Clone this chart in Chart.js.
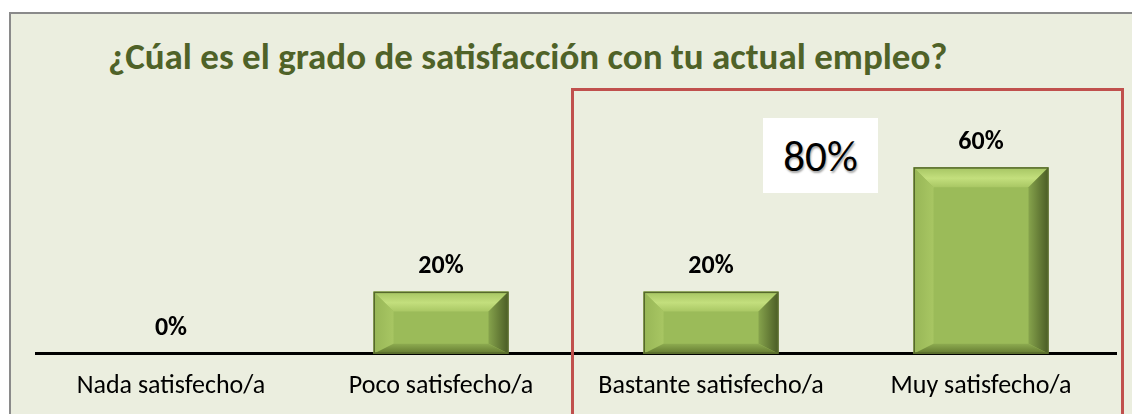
<!DOCTYPE html>
<html><head><meta charset="utf-8">
<script src="https://cdn.jsdelivr.net/npm/chart.js@4.4.1/dist/chart.umd.min.js"></script>
<style>
html,body{margin:0;padding:0;background:#fff;width:1132px;height:414px;overflow:hidden;}
#box{position:absolute;left:9px;top:12px;width:1140px;height:420px;border:2px solid #8a8a8a;background:#EBEEDF;box-sizing:border-box;}
#title{position:absolute;left:108px;top:35px;font-family:Carlito,Lato,sans-serif;font-weight:bold;font-size:37px;line-height:44px;color:#4F6228;white-space:nowrap;}
#wrap{position:absolute;left:0;top:0;width:1132px;height:424px;}
#red{position:absolute;left:571px;top:88px;width:553px;height:400px;border:3px solid #C0504D;box-sizing:border-box;}
#big{position:absolute;left:763px;top:118px;width:115px;height:75px;background:#fff;font-family:Carlito,Lato,sans-serif;font-size:43px;color:#000;text-align:center;line-height:78px;text-shadow:1px 2px 2px rgba(0,0,0,0.35);}
</style></head>
<body>
<div id="box"></div>
<div id="title">¿Cúal es el grado de satisfacción con tu actual empleo?</div>
<div id="wrap"><canvas id="c" width="1132" height="424"></canvas></div>
<div id="big">80%</div>
<div id="red"></div>
<script>
const categories = ["Nada satisfecho/a", "Poco satisfecho/a", "Bastante satisfecho/a", "Muy satisfecho/a"];
const values = [0, 20, 20, 60];
const valueLabels = ["0%", "20%", "20%", "60%"];

const bevelPlugin = {
  id: 'bevel',
  afterDatasetsDraw(chart) {
    const ctx = chart.ctx;
    const meta = chart.getDatasetMeta(0);
    meta.data.forEach((bar) => {
      const p = bar.getProps(['x','y','base','width'], true);
      const l = p.x - p.width/2, r = p.x + p.width/2, t = p.y, b = p.base;
      const h = b - t;
      if (h < 1) return;
      const s = Math.min(20, h/2.8), bs = Math.min(10, h/5);
      ctx.save();
      ctx.fillStyle = '#9BBB59';
      ctx.fillRect(l, t, r-l, h);
      let g = ctx.createLinearGradient(0, t, 0, t+s);
      g.addColorStop(0, '#A5C462'); g.addColorStop(0.55, '#C3DF7D'); g.addColorStop(1, '#A9C764');
      ctx.fillStyle = g;
      ctx.beginPath(); ctx.moveTo(l,t); ctx.lineTo(r,t); ctx.lineTo(r-s,t+s); ctx.lineTo(l+s,t+s); ctx.closePath(); ctx.fill();
      g = ctx.createLinearGradient(l, 0, l+s, 0);
      g.addColorStop(0, '#97B656'); g.addColorStop(1, '#A8C663');
      ctx.fillStyle = g;
      ctx.beginPath(); ctx.moveTo(l,t); ctx.lineTo(l+s,t+s); ctx.lineTo(l+s,b-bs); ctx.lineTo(l,b); ctx.closePath(); ctx.fill();
      g = ctx.createLinearGradient(r-s, 0, r, 0);
      g.addColorStop(0, '#86A34C'); g.addColorStop(1, '#4A5C25');
      ctx.fillStyle = g;
      ctx.beginPath(); ctx.moveTo(r,t); ctx.lineTo(r,b); ctx.lineTo(r-s,b-bs); ctx.lineTo(r-s,t+s); ctx.closePath(); ctx.fill();
      g = ctx.createLinearGradient(0, b-bs, 0, b);
      g.addColorStop(0, '#8DAB50'); g.addColorStop(1, '#62792F');
      ctx.fillStyle = g;
      ctx.beginPath(); ctx.moveTo(l,b); ctx.lineTo(l+s,b-bs); ctx.lineTo(r-s,b-bs); ctx.lineTo(r,b); ctx.closePath(); ctx.fill();
      ctx.strokeStyle = '#56692C'; ctx.lineWidth = 1.5;
      ctx.strokeRect(l+0.75, t+0.75, r-l-1.5, h-1.5);
      ctx.restore();
    });
  },
  afterDraw(chart) {
    const ctx = chart.ctx;
    const meta = chart.getDatasetMeta(0);
    ctx.save();
    ctx.font = 'bold 26px Carlito, Lato, sans-serif';
    ctx.fillStyle = '#000';
    ctx.textAlign = 'center';
    ctx.textBaseline = 'middle';
    meta.data.forEach((bar, i) => {
      ctx.fillText(valueLabels[i], bar.x, bar.y - 25);
    });
    ctx.restore();
  }
};

new Chart(document.getElementById('c'), {
  type: 'bar',
  data: {
    labels: categories,
    datasets: [{ data: values, backgroundColor: 'rgba(0,0,0,0)', borderWidth: 0, categoryPercentage: 1.0, barPercentage: 0.5 }]
  },
  options: {
    responsive: false,
    animation: false,
    layout: { padding: { left: 36, right: 16, top: 105, bottom: 5 } },
    plugins: { legend: { display: false }, tooltip: { enabled: false }, title: { display: false } },
    scales: {
      x: {
        grid: { display: false, drawTicks: false },
        border: { display: true, color: '#000', width: 3 },
        ticks: { color: '#000', font: { family: 'Carlito, Lato, sans-serif', size: 26 }, padding: 17, maxRotation: 0 }
      },
      y: { display: false, min: 0, max: 80 }
    }
  },
  plugins: [bevelPlugin]
});
</script>
</body></html>
